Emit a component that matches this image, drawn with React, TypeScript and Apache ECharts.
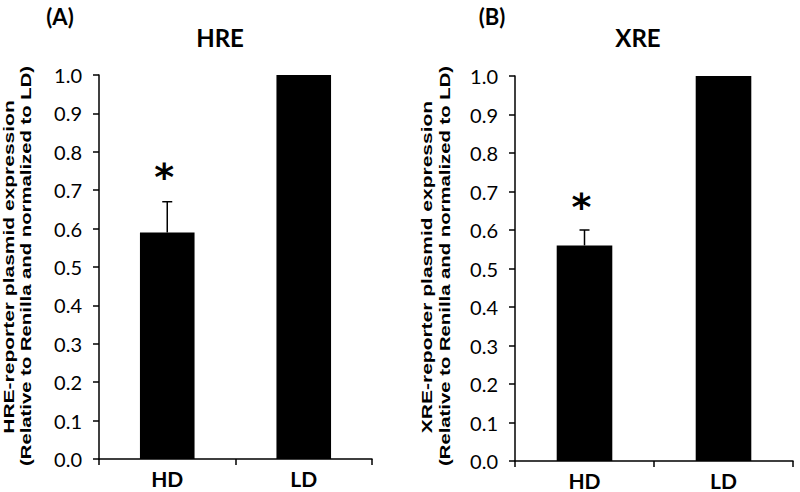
import React, { useEffect, useRef } from 'react';
import * as echarts from 'echarts';

const categories = ['HD', 'LD'];
const hreValues = [0.59, 1.0];
const hreErrors = [0.08, 0];
const hreStar = [0.76];
const xreValues = [0.56, 1.0];
const xreErrors = [0.04, 0];
const xreStar = [0.685];
const yMin = 0;
const yMax = 1;
const yInterval = 0.1;
const panelLetters = ['(A)', '(B)'];
const panelTitles = ['HRE', 'XRE'];
const yNameLine1 = ['HRE-reporter plasmid expression', 'XRE-reporter plasmid expression'];
const yNameLine2 = ['(Relative to Renilla and normalized to LD)', '(Relative to Renilla and normalized to LD)'];

const grids = [
  { left: 99, top: 75, width: 273, height: 384 },
  { left: 515, top: 76, width: 278, height: 385 },
];

function renderErr(params: any, api: any) {
  const idx = api.value(0);
  const v = api.value(1);
  const e = api.value(2);
  const base = api.coord([idx, v]);
  const top = api.coord([idx, v + e]);
  const half = 5;
  return {
    type: 'group',
    children: [
      { type: 'line', shape: { x1: base[0], y1: base[1], x2: top[0], y2: top[1] }, style: { stroke: '#000', lineWidth: 1.5 } },
      { type: 'line', shape: { x1: top[0] - half, y1: top[1], x2: top[0] + half, y2: top[1] }, style: { stroke: '#000', lineWidth: 1.5 } },
    ],
  };
}

export default function App() {
  const ref = useRef<HTMLDivElement>(null);
  useEffect(() => {
    if (!ref.current) return;
    const chart = echarts.init(ref.current, undefined, { renderer: 'svg' });
    const valuesList = [hreValues, xreValues];
    const errList = [hreErrors, xreErrors];
    const starList = [hreStar, xreStar];

    const xAxis: any[] = [];
    const yAxis: any[] = [];
    const series: any[] = [];
    const graphic: any[] = [];

    [0, 1].forEach((p) => {
      xAxis.push({
        type: 'category',
        gridIndex: p,
        data: categories,
        axisLine: { show: true, lineStyle: { color: '#000', width: 1.5 } },
        axisTick: { show: true, length: 6, alignWithLabel: false, lineStyle: { color: '#000', width: 1.5 } },
        axisLabel: { color: '#000', fontSize: 21, lineHeight: 22, fontWeight: 'bold', fontFamily: 'Lato', margin: 8 },
      });
      yAxis.push({
        type: 'value',
        gridIndex: p,
        min: yMin,
        max: yMax,
        interval: yInterval,
        splitLine: { show: false },
        axisLine: { show: true, lineStyle: { color: '#000', width: 1.5 } },
        axisTick: { show: true, length: 6, lineStyle: { color: '#000', width: 1.5 } },
        axisLabel: { color: '#000', fontSize: 20, fontFamily: 'Lato', margin: 17, formatter: (v: number) => v.toFixed(1) },
      });
      series.push({
        type: 'bar',
        xAxisIndex: p,
        yAxisIndex: p,
        data: valuesList[p],
        barCategoryGap: '60%',
        itemStyle: { color: '#000' },
      });
      series.push({
        type: 'custom',
        xAxisIndex: p,
        yAxisIndex: p,
        renderItem: renderErr,
        z: 5,
        encode: { x: 0, y: 1 },
        data: errList[p].map((e, i) => [i, valuesList[p][i], e]).filter((d) => d[2] > 0),
      });
      series.push({
        type: 'scatter',
        xAxisIndex: p,
        yAxisIndex: p,
        symbol: 'circle',
        symbolSize: 0.1,
        itemStyle: { color: 'rgba(0,0,0,0)' },
        z: 6,
        data: starList[p].map((v, i) => [i, v]),
        label: {
          show: true,
          position: 'inside',
          formatter: '*',
          color: '#000',
          opacity: 1,
          textBorderWidth: 0,
          textBorderColor: 'transparent',
          fontSize: 38,
          fontWeight: 'bold',
          fontFamily: 'DejaVu Sans',
          offset: [-3, 10],
        },
      });
    });

    const letterX = [60, 492];
    const titleX = [220, 638];
    const name1X = [9, 427];
    const name2X = [26, 445];
    [0, 1].forEach((p) => {
      graphic.push({
        type: 'text', x: letterX[p], y: 16,
        style: { text: panelLetters[p], align: 'center', verticalAlign: 'middle', font: 'bold 22px Lato', fill: '#000' },
      });
      graphic.push({
        type: 'text', x: titleX[p], y: 37,
        style: { text: panelTitles[p], align: 'center', verticalAlign: 'middle', font: 'bold 24px Lato', fill: '#000' },
      });
      graphic.push({
        type: 'text', x: name1X[p], y: 267, rotation: Math.PI / 2, scaleX: 1.5, scaleY: 1,
        style: { text: yNameLine1[p], align: 'center', verticalAlign: 'middle', font: 'bold 14px "Liberation Sans"', fill: '#000' },
      });
      graphic.push({
        type: 'text', x: name2X[p], y: 266, rotation: Math.PI / 2, scaleX: 1.45, scaleY: 1,
        style: { text: yNameLine2[p], align: 'center', verticalAlign: 'middle', font: 'bold 14px "Liberation Sans"', fill: '#000' },
      });
    });

    chart.setOption({
      animation: false,
      backgroundColor: '#fff',
      grid: grids,
      xAxis,
      yAxis,
      series,
      graphic,
    });
    return () => chart.dispose();
  }, []);
  return <div ref={ref} style={{ position: 'fixed', left: 0, top: 0, width: 800, height: 492 }} />;
}
